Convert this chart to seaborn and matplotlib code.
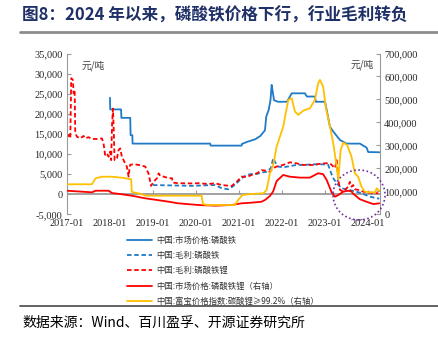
import numpy as np
import pandas as pd
import matplotlib
matplotlib.use("Agg")
import matplotlib.pyplot as plt
import matplotlib.ticker as mticker
from matplotlib.patches import Ellipse
from matplotlib.lines import Line2D
import seaborn as sns

# ---------------- data ----------------
fe_price_dates = ["2018-01-01", "2018-01-03", "2018-04-05", "2018-04-08", "2018-06-22", "2018-06-25",
                  "2018-07-10", "2018-07-12", "2020-05-01", "2020-05-05", "2021-01-23", "2021-01-25",
                  "2021-03-07", "2021-05-20", "2021-07-01", "2021-08-09", "2021-08-20", "2021-09-10",
                  "2021-09-25", "2021-10-05", "2021-10-12", "2021-10-25", "2021-11-27", "2022-02-12",
                  "2022-03-24", "2022-07-15", "2022-07-31", "2022-10-07", "2022-10-16", "2023-01-01",
                  "2023-01-15", "2023-02-12", "2023-03-12", "2023-05-08", "2023-07-03", "2023-10-24",
                  "2023-12-20", "2024-01-03", "2024-04-06"]
fe_price = [24000, 21100, 21100, 19000, 19000, 14700, 14700, 12600, 12600, 12100, 12100, 12500,
            13000, 13700, 14500, 15900, 19300, 21000, 23400, 27200, 25900, 23400, 23000, 23000,
            25100, 25100, 24300, 24300, 23000, 23000, 21000, 16800, 15600, 13500, 12600, 12600,
            11600, 10500, 10450]

fe_margin_dates = ["2019-01-01", "2019-11-24", "2020-06-11", "2020-08-07", "2020-10-01", "2020-10-30",
                   "2020-12-12", "2021-01-23", "2021-03-07", "2021-04-18", "2021-05-31", "2021-07-12",
                   "2021-08-23", "2021-09-28", "2021-10-18", "2021-11-01", "2021-11-27", "2022-01-11",
                   "2022-03-09", "2022-05-05", "2022-06-30", "2022-09-23", "2022-12-16", "2023-01-29",
                   "2023-02-12", "2023-03-12", "2023-04-10", "2023-05-22", "2023-07-31", "2023-10-24",
                   "2024-01-18", "2024-04-06"]
fe_margin = [2300, 2100, 2300, 1500, 1250, 1750, 2750, 4000, 4800, 5050, 5050, 5400, 5600, 6500,
             8950, 8100, 6900, 6700, 7000, 7300, 7300, 7450, 7450, 7300, 6000, 4000, 2750, 1500,
             1050, 400, -600, -1100]

lfp_margin_dates = ["2017-01-01", "2017-01-15", "2017-01-29", "2017-02-06", "2017-02-20", "2017-02-26",
                    "2017-03-07", "2017-03-12", "2017-03-27", "2017-04-23", "2017-05-22", "2017-06-05",
                    "2017-07-03", "2017-07-31", "2017-09-26", "2017-10-24", "2017-11-07", "2017-11-21",
                    "2017-12-06", "2017-12-20", "2018-01-03", "2018-01-11", "2018-01-18", "2018-01-26",
                    "2018-02-01", "2018-02-09", "2018-03-01", "2018-03-15", "2018-03-29", "2018-04-12",
                    "2018-05-10", "2018-05-24", "2018-06-08", "2018-06-16", "2018-06-21", "2018-07-20",
                    "2018-09-01", "2018-10-27", "2018-11-24", "2018-12-16", "2019-01-06", "2019-02-04",
                    "2019-02-18", "2019-03-04", "2019-04-01", "2019-05-14", "2019-06-11", "2019-06-20",
                    "2019-08-03", "2019-11-24", "2020-01-20", "2020-04-15", "2020-06-11", "2020-08-07",
                    "2020-10-30", "2020-12-12", "2021-01-23", "2021-03-07", "2021-04-18", "2021-05-31",
                    "2021-07-12", "2021-08-09", "2021-09-20", "2021-10-18", "2021-11-16", "2022-01-11",
                    "2022-03-09", "2022-05-05", "2022-06-30", "2022-09-23", "2022-12-16", "2023-02-12",
                    "2023-03-27", "2023-04-10", "2023-04-24", "2023-05-08", "2023-06-05", "2023-07-17",
                    "2023-07-31", "2023-08-14", "2023-08-28", "2023-09-12", "2023-10-09", "2023-11-21",
                    "2024-01-18", "2024-03-29"]
lfp_margin = [14300, 14750, 13900, 28850, 28400, 25100, 25900, 15200, 14300, 13900, 14500, 13900,
              14200, 13750, 13750, 13900, 12700, 9800, 10200, 9350, 10600, 8500, 16800, 21300,
              16800, 8500, 8950, 11000, 11400, 9350, 7700, 6900, 4400, 6500, 7300, 7500,
              7300, 6900, 5200, 2100, 3100, 4000, 5200, 4550, 4400, 4000, 4000, 2900,
              2750, 2700, 2750, 2550, 2750, 2300, 2050, 3100, 4400, 4300, 4800, 5200,
              6000, 5900, 5600, 6500, 6900, 7300, 7950, 7700, 7300, 7300, 7700, 7700,
              6500, 8500, 3600, 1100, 650, 1900, 3100, 1900, 2300, 1250, 1100, 650,
              400, 250]

lfp_price_dates = ["2017-01-01", "2017-07-31", "2017-09-01", "2017-12-20", "2018-01-18", "2018-04-12",
                   "2018-07-20", "2018-10-27", "2019-02-04", "2019-05-14", "2019-08-03", "2020-01-20",
                   "2020-06-11", "2020-10-30", "2021-01-23", "2021-04-18", "2021-07-12", "2021-08-09",
                   "2021-09-20", "2021-10-18", "2021-11-16", "2022-01-11", "2022-03-09", "2022-06-03",
                   "2022-08-26", "2022-11-04", "2022-12-16", "2023-01-15", "2023-02-27", "2023-03-27",
                   "2023-04-24", "2023-06-05", "2023-07-17", "2023-08-14", "2023-08-28", "2023-10-24",
                   "2023-12-20", "2024-02-15", "2024-04-06"]
lfp_price = [103000, 96000, 103000, 103000, 93000, 87500, 80000, 70000, 62700, 55300, 48300, 40900,
             37900, 40900, 48300, 51000, 55300, 62700, 80000, 100000, 145000, 171500, 164000, 160000,
             160000, 179000, 175000, 150000, 95000, 77000, 84000, 99000, 103000, 100000, 90000, 66000,
             55000, 45000, 48000]

li2co3_dates = ["2017-01-01", "2017-07-31", "2017-09-01", "2017-10-24", "2018-01-18", "2018-04-12",
                "2018-06-30", "2018-07-05", "2018-08-01", "2018-09-26", "2018-10-27", "2020-02-18",
                "2020-03-01", "2020-04-01", "2020-11-27", "2020-12-25", "2021-01-29", "2021-04-18",
                "2021-07-27", "2021-08-23", "2021-09-20", "2021-10-18", "2021-11-16", "2022-01-11",
                "2022-02-23", "2022-03-24", "2022-04-21", "2022-05-19", "2022-06-30", "2022-08-26",
                "2022-10-07", "2022-11-04", "2022-11-19", "2022-12-16", "2023-01-09", "2023-02-12",
                "2023-03-12", "2023-04-10", "2023-04-24", "2023-05-14", "2023-06-05", "2023-07-08",
                "2023-08-14", "2023-09-12", "2023-10-09", "2023-11-07", "2023-12-06", "2024-01-18",
                "2024-03-01", "2024-03-15", "2024-04-06"]
li2co3 = [131000, 131000, 157000, 164000, 164000, 159700, 152800, 98800, 94500, 88800, 81400, 81400,
          45300, 40900, 40900, 62700, 84400, 88800, 91800, 106200, 178900, 215000, 294700, 381700,
          498000, 505400, 447000, 432700, 451400, 461900, 498000, 570700, 585000, 556000, 461900, 381700,
          309500, 207600, 149700, 280300, 312100, 302000, 251200, 178900, 164000, 120600, 98800, 96200,
          96200, 113600, 102000]

labels = ["中国:市场价格:磷酸铁", "中国:毛利:磷酸铁", "中国:毛利:磷酸铁锂",
          "中国:市场价格:磷酸铁锂（右轴）", "中国:富宝价格指数:碳酸锂≥99.2%（右轴）"]
left_ticks = [-5000, 0, 5000, 10000, 15000, 20000, 25000, 30000, 35000]
right_ticks = [0, 100000, 200000, 300000, 400000, 500000, 600000, 700000]
year_ticks = ["2017-01", "2018-01", "2019-01", "2020-01", "2021-01", "2022-01", "2023-01", "2024-01"]

# ---------------- style ----------------
sns.set_style("white")
plt.rcParams["font.family"] = ["Noto Sans CJK SC", "DejaVu Sans"]

BLUE = "#1F7BC8"
RED = "#FF0000"
YEL = "#FFC000"
GRAY = "#9A9A9A"
CJK = ["Noto Sans CJK SC", "DejaVu Sans"]
SERIF = ["Liberation Serif", "DejaVu Serif"]

fig = plt.figure(figsize=(4.38, 3.46), dpi=100)
ax = fig.add_axes([67 / 438, 1 - 214.4 / 346, (380 - 67) / 438, (214.4 - 53.5) / 346])
ax2 = ax.twinx()

lw = 1.3
sns.lineplot(x=pd.to_datetime(fe_price_dates), y=fe_price, ax=ax, color=BLUE, lw=lw, label=labels[0], legend=False)
sns.lineplot(x=pd.to_datetime(fe_margin_dates), y=fe_margin, ax=ax, color=BLUE, lw=lw,
             linestyle=(0, (2.5, 1.5)), label=labels[1], legend=False)
sns.lineplot(x=pd.to_datetime(lfp_margin_dates), y=lfp_margin, ax=ax, color=RED, lw=lw,
             linestyle=(0, (2.5, 1.5)), label=labels[2], legend=False)
sns.lineplot(x=pd.to_datetime(lfp_price_dates), y=lfp_price, ax=ax2, color=RED, lw=lw, label=labels[3], legend=False)
sns.lineplot(x=pd.to_datetime(li2co3_dates), y=li2co3, ax=ax2, color=YEL, lw=lw, label=labels[4], legend=False)

xmin, xmax = pd.Timestamp("2017-01-01"), pd.Timestamp("2024-04-12")
ax.set_xlim(xmin, xmax)
ax.set_ylim(-5000, 35000)
ax2.set_ylim(0, 700000)
ax.set_xlabel("")
ax.set_ylabel("")
ax2.set_ylabel("")

ax.set_yticks(left_ticks)
ax.yaxis.set_major_formatter(mticker.FuncFormatter(lambda v, p: f"{int(v):,}"))
ax2.set_yticks(right_ticks)
ax2.yaxis.set_major_formatter(mticker.FuncFormatter(lambda v, p: f"{int(v):,}"))
ax.set_xticks(pd.to_datetime(year_ticks))
ax.set_xticklabels(year_ticks)

for a in (ax, ax2):
    for s in a.spines.values():
        s.set_visible(False)
ax.spines["left"].set_visible(True)
ax.spines["left"].set_color(GRAY)
ax2.spines["right"].set_visible(True)
ax2.spines["right"].set_color(GRAY)

ax.tick_params(axis="y", direction="in", length=3, color=GRAY, labelsize=7.5, pad=3, left=True)
ax2.tick_params(axis="y", direction="in", length=3, color=GRAY, labelsize=7.5, pad=3, right=True)
ax.tick_params(axis="x", length=0, labelsize=7.5, pad=3)
for t in ax.get_xticklabels() + ax.get_yticklabels() + ax2.get_yticklabels():
    t.set_fontfamily(SERIF)

# zero line with year ticks
ax.axhline(0, color=GRAY, lw=1.3, zorder=1)
sec = ax.secondary_xaxis(5000 / 40000)
sec.set_xticks(pd.to_datetime(year_ticks))
sec.tick_params(axis="x", direction="in", length=3, color=GRAY, labelbottom=False, labeltop=False)
sec.spines["bottom"].set_visible(False)
sec.spines["top"].set_visible(False)

# unit labels
ax.text(0.045, 0.955, "元/吨", transform=ax.transAxes, fontsize=7, color="#404040", va="top", ha="left",
        family=CJK, style="italic")
ax2.text(0.905, 0.965, "元/吨", transform=ax2.transAxes, fontsize=7, color="#404040", va="top", ha="left",
         family=CJK, style="italic")

# dotted circle highlight
ell = Ellipse((359 / 438, 1 - 195 / 346), 52 / 438, 50 / 346, transform=fig.transFigure,
              fill=False, edgecolor="#7030A0", linestyle=(0, (1, 1.5)), lw=1.2, clip_on=False)
fig.patches.append(ell)

# title and lines
fig.text(22 / 438, 1 - 16 / 346, "图8：2024 年以来，磷酸铁价格下行，行业毛利转负", fontsize=12,
         fontweight="bold", color="#1F3068", va="center", ha="left", family=CJK)
fig.add_artist(Line2D([20 / 438, 1.0], [1 - 32 / 346, 1 - 32 / 346], color="#8C8C8C", lw=2,
                      transform=fig.transFigure))
fig.add_artist(Line2D([20 / 438, 1.0], [1 - 306 / 346, 1 - 306 / 346], color="#555555", lw=1.3,
                      transform=fig.transFigure))
fig.text(22 / 438, 1 - 323 / 346, "数据来源：Wind、百川盈孚、开源证券研究所", fontsize=10,
         color="#000000", va="center", ha="left", family=CJK)

# legend
h1, l1 = ax.get_legend_handles_labels()
h2, l2 = ax2.get_legend_handles_labels()
leg = fig.legend(h1 + h2, l1 + l2, loc="upper left", bbox_to_anchor=(125 / 438, 1 - 234 / 346),
                 frameon=False, fontsize=6, handlelength=3.0, handletextpad=0.6, labelspacing=0.75,
                 borderaxespad=0, borderpad=0.2)
for t in leg.get_texts():
    t.set_fontfamily(CJK)
    t.set_color("#333333")

fig.savefig("out.png", dpi=100, facecolor="white")
